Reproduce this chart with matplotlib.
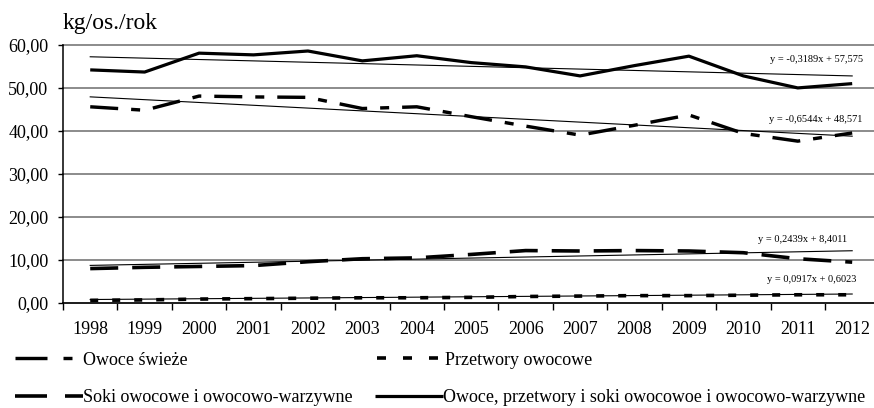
import numpy as np
import matplotlib
matplotlib.use("Agg")
import matplotlib.pyplot as plt
from matplotlib.lines import Line2D

plt.rcParams['font.family'] = ['Liberation Serif', 'DejaVu Serif']
plt.rcParams['lines.scale_dashes'] = False

years = [str(y) for y in range(1998, 2013)]
owoce_swieze = [45.6, 44.8, 48.1, 47.9, 47.8, 45.2, 45.6, 43.3, 41.1, 39.0, 41.3, 43.7, 39.4, 37.6, 39.5]
przetwory = [0.5, 0.6, 0.8, 0.9, 1.0, 1.1, 1.1, 1.2, 1.4, 1.5, 1.6, 1.6, 1.7, 1.8, 1.8]
soki = [7.9, 8.2, 8.4, 8.6, 9.5, 10.2, 10.4, 11.2, 12.1, 12.0, 12.1, 12.0, 11.6, 10.2, 9.4]
razem = [54.2, 53.7, 58.1, 57.7, 58.6, 56.3, 57.5, 55.9, 54.9, 52.8, 55.2, 57.4, 52.8, 50.0, 51.0]

# linear trend coefficients (slope, intercept) as printed on the chart
trend_razem = (-0.3189, 57.575)
trend_swieze = (-0.6544, 48.571)
trend_soki = (0.2439, 8.4011)
trend_przetwory = (0.0917, 0.6023)
trend_labels = ["y = -0,3189x + 57,575", "y = -0,6544x + 48,571",
                "y = 0,2439x + 8,4011", "y = 0,0917x + 0,6023"]

labels = ["Owoce świeże", "Przetwory owocowe",
          "Soki owocowe i owocowo-warzywne",
          "Owoce, przetwory i soki owocowoe i owocowo-warzywne"]

W, H = 874, 408
PX = 0.72  # points per pixel at dpi 100

fig = plt.figure(figsize=(W / 100, H / 100), dpi=100)
ax = fig.add_axes([63 / W, (H - 302.5) / H, 816.4 / W, 257.5 / H])

x = np.arange(len(years))
ax.set_xlim(-0.5, len(years) - 0.5)
ax.set_ylim(0, 60)

# grid
ax.set_yticks(np.arange(0, 61, 10))
ax.set_yticklabels([f"{v:.2f}".replace('.', ',') for v in np.arange(0, 61, 10)])
ax.yaxis.grid(True, color='#8c8c8c', linewidth=1.5 * PX * 1.3)
for gl in ax.get_ygridlines():
    gl.set_clip_on(False)
ax.set_axisbelow(True)

for s in ['top', 'right']:
    ax.spines[s].set_visible(False)
for s in ['left', 'bottom']:
    ax.spines[s].set_color('black')
    ax.spines[s].set_linewidth(1.1)

ax.set_xticks(x)
ax.set_xticklabels(years)
ax.set_xticks(np.arange(-0.5, len(years), 1), minor=True)
ax.tick_params(axis='x', which='major', length=0, pad=13, labelsize=13)
ax.tick_params(axis='x', which='minor', length=5, width=1.0, direction='out', color='black')
ax.tick_params(axis='y', length=3.6, width=1.0, pad=7, labelsize=13, color='black')

# styles
st_swieze = dict(color='black', lw=3.4 * PX, linestyle=(0, (28 * PX, 13 * PX, 9 * PX, 13 * PX)),
                 dash_capstyle='butt')
st_przetwory = dict(color='black', lw=3.6 * PX, linestyle=(0, (8 * PX, 14 * PX)), dash_capstyle='butt')
st_soki = dict(color='black', lw=3.6 * PX, linestyle=(0, (28 * PX, 14 * PX)), dash_capstyle='butt')
st_razem = dict(color='black', lw=3.2 * PX, linestyle='-', solid_capstyle='butt')

# trend lines
xt = np.array([1, len(years)])
for a, b in [trend_razem, trend_swieze, trend_soki, trend_przetwory]:
    ax.plot(xt - 1, a * xt + b, color='black', lw=0.8, zorder=2)

ax.plot(x, owoce_swieze, zorder=3, **st_swieze)
ax.plot(x, przetwory, zorder=3, **st_przetwory)
ax.plot(x, soki, zorder=3, **st_soki)
ax.plot(x, razem, zorder=3, **st_razem)

# trend equations
for txt, (xr, yc) in zip(trend_labels, [(863, 60), (862, 120), (847, 240), (856, 280)]):
    fig.text(xr / W, 1 - yc / H, txt, ha='right', va='center', fontsize=7.5)

# axis unit label
fig.text(63 / W, 1 - 29 / H, "kg/os./rok", ha='left', va='baseline', fontsize=17)

# legend (manual layout)
leg_items = [
    (labels[0], dict(st_swieze, linestyle=(0, (32 * PX, 16 * PX, 9 * PX, 40 * PX))), 15, 83, 358, 83, 365),
    (labels[1], dict(st_przetwory, linestyle=(0, (9 * PX, 17 * PX))), 377, 443, 358, 445, 365),
    (labels[2], dict(st_soki, linestyle=(0, (32 * PX, 18 * PX))), 15, 83, 395.5, 83, 402),
    (labels[3], st_razem, 375, 443, 395.5, 443, 402),
]
for lab, st, x0, x1, yl, xtx, ybl in leg_items:
    fig.add_artist(Line2D([x0 / W, x1 / W], [1 - yl / H, 1 - yl / H],
                          transform=fig.transFigure, **st))
    fig.text(xtx / W, 1 - ybl / H, lab, ha='left', va='baseline', fontsize=13)

fig.savefig("out.png", dpi=100)
